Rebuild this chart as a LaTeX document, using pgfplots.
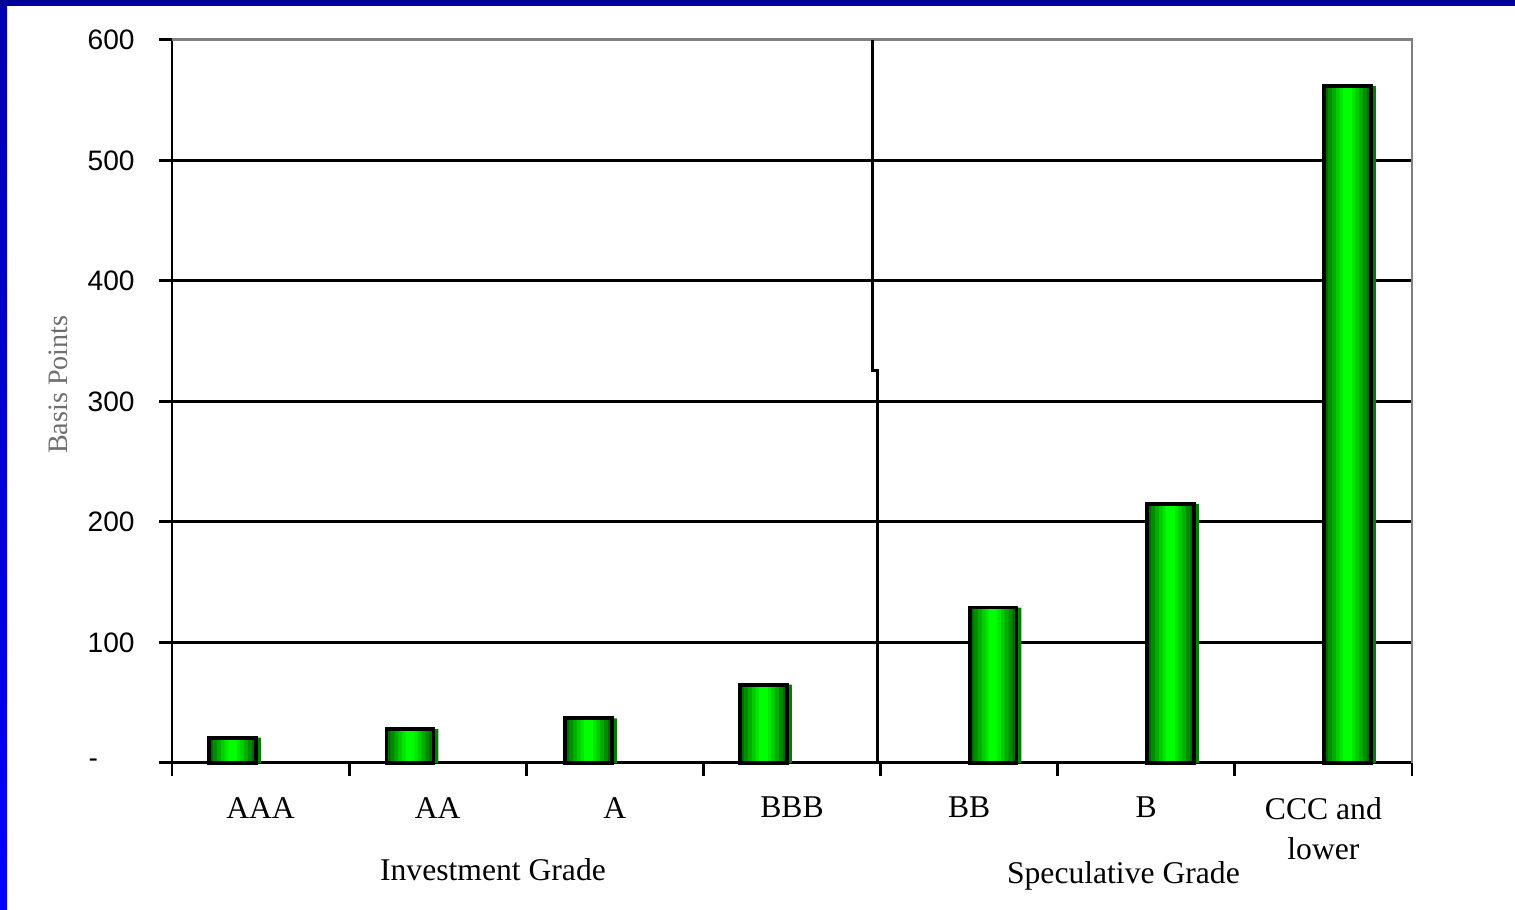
\documentclass[border=0pt]{standalone}
\usepackage{fontspec}
\setmainfont{Liberation Serif}
\newfontfamily\arialf{Liberation Sans}
\usepackage{pgfplots}
\pgfplotsset{compat=1.18}
\definecolor{topblue}{RGB}{0,0,153}
\definecolor{leftblueA}{RGB}{0,0,170}
\definecolor{leftblueB}{RGB}{0,0,255}
\definecolor{gA}{RGB}{0,105,0}
\definecolor{gB}{RGB}{0,140,0}
\definecolor{gC}{RGB}{0,172,0}
\definecolor{gD}{RGB}{0,205,0}
\definecolor{gE}{RGB}{0,232,0}
\definecolor{gF}{RGB}{0,255,0}
\definecolor{shadowgreen}{RGB}{0,128,0}
\definecolor{framegray}{RGB}{128,128,128}
\definecolor{labgray}{RGB}{110,110,110}
\pgfplotstableread{
x v
0.3415 21
1.3436 28
2.351 37
3.339 65
4.635 129
5.637 215
6.636 562
}\bars
\pgfplotstableread{
x v
0.3695 21
1.3716 28
2.379 37
3.367 65
4.663 129
5.665 215
6.664 562
}\shadow
\begin{document}
\begin{tikzpicture}[x=1cm,y=1cm]
\useasboundingbox (0,0) rectangle (15.15,9.10);
\fill[white] (0,0) rectangle (15.15,9.10);
\shade[top color=leftblueA, bottom color=leftblueB] (0,0) rectangle (0.07,9.10);
\fill[topblue] (0,9.04) rectangle (15.15,9.10);
\begin{axis}[
  at={(1.72cm,1.47cm)}, anchor=south west,
  scale only axis, width=12.4cm, height=7.23cm,
  xmin=0, xmax=7, ymin=0, ymax=600,
  axis x line*=bottom, axis y line*=left,
  axis line style={black, line width=0.85pt},
  xtick={0,1,...,7}, xticklabels={},
  ytick={0,100,...,600},
  yticklabels={\makebox[0.46cm][l]{-},100,200,300,400,500,600},
  yticklabel style={font=\arialf\fontsize{8}{9}\selectfont, anchor=east, xshift=-0.12cm},
  tick align=outside, major tick length=0.13cm,
  tick style={black, line width=0.85pt},
  ymajorgrids, major grid style={black, line width=0.85pt},
  clip=false,
  every axis plot/.append style={ybar, bar shift=0pt, draw=none},
]
\addplot[bar width=0.265, fill=shadowgreen] table[x=x,y=v] {\shadow};
\addplot[bar width=0.265, fill=gA] table[x=x,y=v] {\bars};
\addplot[bar width=0.22, fill=gB] table[x=x,y=v] {\bars};
\addplot[bar width=0.175, fill=gC] table[x=x,y=v] {\bars};
\addplot[bar width=0.13, fill=gD] table[x=x,y=v] {\bars};
\addplot[bar width=0.088, fill=gE] table[x=x,y=v] {\bars};
\addplot[bar width=0.05, fill=gF] table[x=x,y=v] {\bars};
\addplot[bar width=0.265, fill=none, draw=black, line width=1.1pt] table[x=x,y=v] {\bars};
\draw[framegray, line width=0.85pt] (axis cs:0,600) -- (axis cs:7,600) -- (axis cs:7,0);
\draw[black, line width=0.85pt] (axis cs:3.957,600) -- (axis cs:3.957,326) -- (axis cs:3.98,326) -- (axis cs:3.98,2);
\node[font=\fontsize{9}{11.4}\selectfont] at (axis cs:0.5,-37) {AAA};
\node[font=\fontsize{9}{11.4}\selectfont] at (axis cs:1.5,-37) {AA};
\node[font=\fontsize{9}{11.4}\selectfont] at (axis cs:2.5,-37) {A};
\node[font=\fontsize{9}{11.4}\selectfont] at (axis cs:3.5,-37) {BBB};
\node[font=\fontsize{9}{11.4}\selectfont] at (axis cs:4.5,-37) {BB};
\node[font=\fontsize{9}{11.4}\selectfont] at (axis cs:5.5,-37) {B};
\node[font=\fontsize{9}{11.4}\selectfont, align=center] at (axis cs:6.5,-54.5) {CCC and\\lower};
\node[font=\fontsize{9}{11}\selectfont] at (axis cs:1.812,-88.8) {Investment Grade};
\node[font=\fontsize{9}{11}\selectfont] at (axis cs:5.371,-93.8) {Speculative Grade};
\node[font=\fontsize{8}{10}\selectfont, text=labgray, rotate=90] at (axis cs:-0.644,314) {Basis Points};
\end{axis}
\end{tikzpicture}
\end{document}
